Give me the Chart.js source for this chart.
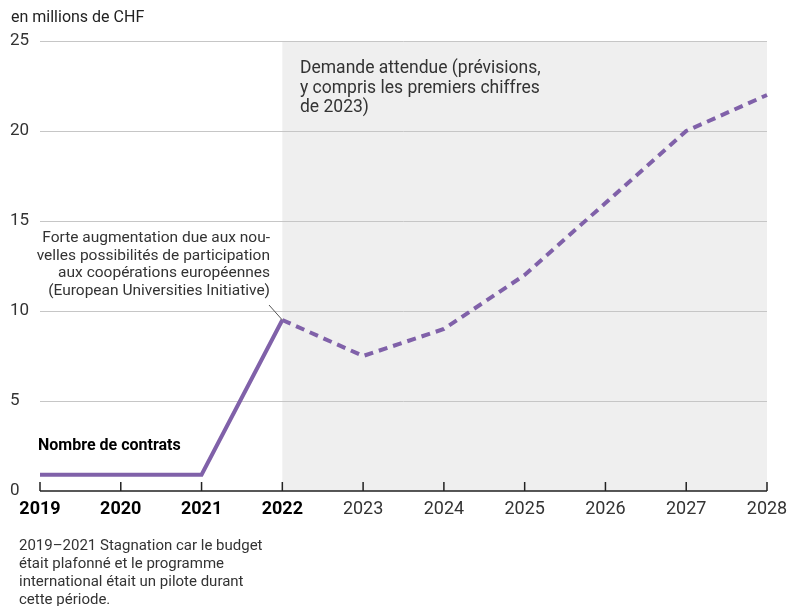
<!DOCTYPE html>
<html>
<head>
<meta charset="utf-8">
<script src="https://cdn.jsdelivr.net/npm/chart.js@4"></script>
<style>
  html, body { margin: 0; padding: 0; background: #fff; }
  #wrap { width: 790px; height: 606px; position: relative; }
</style>
</head>
<body>
<div id="wrap"><canvas id="chart"></canvas></div>
<script>
const annees = ['2019', '2020', '2021', '2022', '2023', '2024', '2025', '2026', '2027', '2028'];
// valeurs constatées (trait plein)
const contratsReels = [0.9, 0.9, 0.9, 9.5, null, null, null, null, null, null];
// demande attendue (pointillé)
const demandeAttendue = [null, null, null, 9.5, 7.5, 9, 12, 16, 20, 22];
const ticksY = [0, 5, 10, 15, 20, 25];
const anneesGras = ['2019', '2020', '2021', '2022'];

const violet = '#8061a9';
const police = 'Roboto, "Liberation Sans", sans-serif';

const notesPlugin = {
    id: 'notes',
    beforeDraw(chart) {
        const { ctx, chartArea, scales } = chart;
        const x = scales.x, y = scales.y;
        // zone grise: prévisions à partir de 2022
        ctx.save();
        ctx.fillStyle = '#efefef';
        const x0 = x.getPixelForValue(3);
        ctx.fillRect(x0, y.getPixelForValue(25), chartArea.right - x0, y.getPixelForValue(0) - y.getPixelForValue(25));
        ctx.restore();
    },
    afterDraw(chart) {
        const { ctx, scales } = chart;
        const x = scales.x, y = scales.y;
        const y0 = y.getPixelForValue(0);
        ctx.save();
        // axe x et petites graduations vers le haut
        ctx.strokeStyle = '#222';
        ctx.lineWidth = 1.5;
        ctx.beginPath();
        ctx.moveTo(x.getPixelForValue(0), y0);
        ctx.lineTo(x.getPixelForValue(annees.length - 1), y0);
        annees.forEach((a, i) => {
            const px = x.getPixelForValue(i);
            ctx.moveTo(px, y0);
            ctx.lineTo(px, y0 - 9);
        });
        ctx.stroke();

        // textes
        ctx.fillStyle = '#222';
        ctx.textBaseline = 'middle';
        ctx.font = '16px ' + police;
        ctx.textAlign = 'left';
        ctx.fillText('en millions de CHF', 11, 18);

        ctx.font = 'bold 16px ' + police;
        ctx.fillStyle = '#000';
        ctx.fillText('Nombre de contrats', 38, 446);

        ctx.fillStyle = '#333';
        ctx.font = '17.5px ' + police;
        ['Demande attendue (prévisions,', 'y compris les premiers chiffres', 'de 2023)']
            .forEach((t, i) => ctx.fillText(t, 300, 69 + i * 19.5));

        ctx.font = '15.5px ' + police;
        ctx.textAlign = 'right';
        ['Forte augmentation due aux nou-', 'velles possibilités de participation', 'aux coopérations européennes', '(European Universities Initiative)']
            .forEach((t, i) => ctx.fillText(t, 270, 238 + i * 17.7));

        // trait de renvoi
        ctx.strokeStyle = '#555';
        ctx.lineWidth = 1;
        ctx.beginPath();
        ctx.moveTo(269, 305);
        ctx.lineTo(x.getPixelForValue(3), y.getPixelForValue(9.5));
        ctx.stroke();

        ctx.textAlign = 'left';
        ctx.fillStyle = '#333';
        ctx.font = '15px ' + police;
        ['2019–2021 Stagnation car le budget', 'était plafonné et le programme', 'international était un pilote durant', 'cette période.']
            .forEach((t, i) => ctx.fillText(t, 19, 546 + i * 18));
        ctx.restore();
    }
};

new Chart(document.getElementById('chart'), {
    type: 'line',
    data: {
        labels: annees,
        datasets: [
            {
                data: contratsReels,
                borderColor: violet,
                borderWidth: 4,
                pointRadius: 0,
                tension: 0,
                spanGaps: false
            },
            {
                data: demandeAttendue,
                borderColor: violet,
                borderWidth: 4,
                borderDash: [9, 6],
                pointRadius: 0,
                tension: 0
            }
        ]
    },
    options: {
        responsive: true,
        maintainAspectRatio: false,
        animation: false,
        layout: { padding: { left: 10, right: 23, top: 41, bottom: 0 } },
        plugins: {
            legend: { display: false },
            tooltip: { enabled: false }
        },
        scales: {
            x: {
                offset: false,
                grid: { display: false, drawTicks: false },
                border: { display: false },
                afterFit: s => { s.height = 115; s.paddingLeft = 0; s.paddingRight = 0; },
                ticks: {
                    padding: 8,
                    maxRotation: 0,
                    autoSkip: false,
                    color: ctx => anneesGras.includes(annees[ctx.index]) ? '#000' : '#333',
                    font: ctx => ({
                        family: police,
                        size: 18,
                        weight: anneesGras.includes(annees[ctx.index]) ? 'bold' : 'normal'
                    })
                }
            },
            y: {
                min: 0,
                max: 25,
                afterFit: s => { s.width = 30; },
                afterBuildTicks: s => { s.ticks = ticksY.map(v => ({ value: v })); },
                grid: {
                    color: ctx => ctx.tick && ctx.tick.value === 0 ? 'rgba(0,0,0,0)' : '#c6c6c6',
                    lineWidth: 1,
                    drawTicks: false
                },
                border: { display: false },
                ticks: {
                    crossAlign: 'far',
                    padding: 0,
                    color: '#333',
                    font: { family: police, size: 17 }
                }
            }
        }
    },
    plugins: [notesPlugin]
});
</script>
</body>
</html>
